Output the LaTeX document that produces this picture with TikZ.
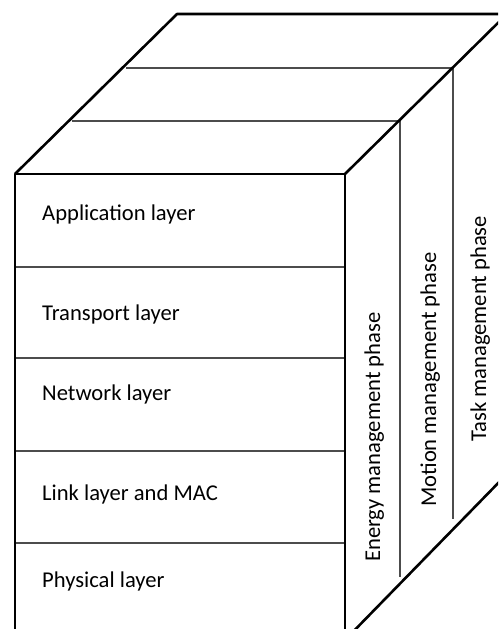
\documentclass[tikz,border=0pt]{standalone}
\usepackage{fontspec}
\setmainfont{Carlito}
\begin{document}
\begin{tikzpicture}[x=1pt,y=-1pt,
	edge/.style={line width=2.6pt, line join=round},
	inner/.style={line width=1.6pt, color=black!70},
	layer/.style={anchor=base west, inner sep=0pt, font=\fontsize{22.6}{27}\selectfont},
	phase/.style={rotate=90, anchor=base west, inner sep=0pt, font=\fontsize{22.6}{27}\selectfont}]
	\useasboundingbox (0,0) rectangle (498,629);
	\clip (0,0) rectangle (498,629);

	% Corners of the box
	\coordinate (ftl) at (15,174);
	\coordinate (ftr) at (345,174);
	\coordinate (fbl) at (15,640);
	\coordinate (fbr) at (345,640);
	\coordinate (btl) at (177,14);
	\coordinate (btr) at (507,14);
	\coordinate (bbr) at (507,474);

	% Top face slices
	\draw[inner] (72,121) -- (400,121) -- (400,577);
	\draw[inner] (126,68) -- (453,68) -- (453,519);

	% Layer dividers
	\draw[inner] (15,267) -- (345,267);
	\draw[inner] (15,358) -- (345,358);
	\draw[inner] (15,451) -- (345,451);
	\draw[inner] (15,543) -- (345,543);

	% Outline
	\draw[edge] (fbl) -- (ftl) -- (ftr) -- (fbr);
	\draw[edge] (ftl) -- (btl) -- (btr);
	\draw[edge] (ftr) -- (btr);
	\draw[edge] (fbr) -- (bbr);

	% Layers
	\node[layer] (app) at (42,220) {Application layer};
	\node[layer] (trans) at (42,320) {Transport layer};
	\node[layer] (net) at (42,400) {Network layer};
	\node[layer] (link) at (42,500) {Link layer and MAC};
	\node[layer] (phy) at (42,587) {Physical layer};

	% Phases
	\node[phase] (energy) at (380,562) {Energy management phase};
	\node[phase] (motion) at (436,507) {Motion management phase};
	\node[phase] (task) at (486,442) {Task management phase};
\end{tikzpicture}
\end{document}
